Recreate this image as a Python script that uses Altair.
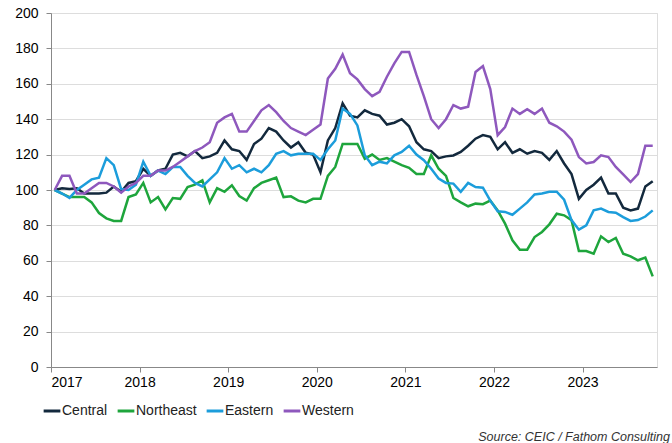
import altair as alt
import pandas as pd

# Monthly index values, Jan 2017 to Oct 2023 (Jan 2017 = 100)
central = [100, 101, 100.5, 101, 98, 98, 98, 98.5, 102, 99,
           104, 105, 112, 108, 111, 112, 120, 121, 119, 122,
           118, 119, 121, 128, 123, 122, 117, 126, 129,
           135, 133, 128, 124, 127, 121, 120, 110, 128, 135,
           149, 142, 141, 145, 143, 142, 137, 138, 140, 136,
           127, 123, 122, 118, 119, 119.5, 121.5, 125, 129, 131,
           130, 123, 127, 121, 123, 120.5, 122, 121, 117, 122,
           115, 109, 95, 100, 103, 107, 98, 98, 90, 88.5,
           89.5, 102, 105]
northeast = [100, 98, 96, 96, 96, 93, 87, 84, 82.5, 82.5,
             96, 97.5, 104, 93, 96, 89, 95.5, 95, 101.7, 103,
             105.5, 93, 101, 99, 102.6, 96.6, 94, 101, 104,
             105.5, 107, 96, 96.4, 94, 93, 95, 95, 108, 113,
             126, 126, 126, 117.7, 120, 117, 118, 116, 114, 112.5,
             109, 109, 119.6, 112, 108, 95.5, 93, 90.8, 92.3, 92,
             94, 88.5, 81, 71.6, 66.3, 66.3, 73.4, 76.3, 80.6, 86.6,
             85.7, 83, 65.5, 65.5, 64, 73.8, 70.6, 72.9, 64, 62.5,
             60.3, 61.8, 51.2]
eastern = [100, 98, 95.5, 100, 103, 106, 107, 118, 114, 100.5,
           100, 103, 116, 108, 111, 109, 113, 113, 108, 104,
           102, 106, 110, 118, 112, 114, 110, 112, 110,
           114, 120.5, 122, 119.6, 120.5, 120.5, 120.5, 117, 123, 128,
           146, 143, 136.5, 119.6, 114, 116, 115, 119.6, 121.5, 125,
           120, 116.8, 112, 106.5, 104, 103.6, 99, 104, 101.7, 101.3,
           94, 88, 87.6, 86, 89.5, 93, 97.5, 98, 99, 99,
           94.5, 83, 77.6, 80, 88.5, 89.5, 87.6, 87.2, 84.7, 82.5,
           83, 85, 88.5]
western = [100, 108, 108, 98, 98, 101, 104, 104, 102, 98.5,
           102, 104, 108, 108, 111, 111, 113, 116, 119, 122,
           124, 127, 138, 141, 143, 133, 133, 139, 145,
           148, 144, 139, 135, 133, 131, 134, 137, 163, 168.5,
           176.5, 166, 162.5, 157, 153, 155.5, 164, 171.5, 178, 178,
           165, 153, 140, 135, 140, 148, 146, 147, 166.7, 170,
           157, 131, 135.6, 146, 143, 145.6, 143, 146, 138, 136,
           133, 128.4, 118.6, 115, 115.8, 119.6, 118.6, 113, 108.8, 104.5,
           109, 125, 125]

series_names = ["Central", "Northeast", "Eastern", "Western"]
series_colors = ["#13293d", "#1ea53c", "#1c9ddb", "#8e58bd"]
year_ticks = [2017, 2018, 2019, 2020, 2021, 2022, 2023]
y_ticks = list(range(0, 201, 20))
source_note = "Source: CEIC / Fathom Consulting"

months = pd.date_range("2017-01-01", periods=len(central), freq="MS")
decimal_year = months.year + (months.month - 0.5) / 12

rows = []
for name, vals in zip(series_names, [central, northeast, eastern, western]):
    for t, v in zip(decimal_year, vals):
        rows.append({"t": float(t), "series": name, "value": v})
df = pd.DataFrame(rows)

FONT = "Liberation Sans"

lines = alt.Chart(df).mark_line(strokeWidth=2.5, strokeJoin="miter").encode(
    x=alt.X(
        "t:Q",
        scale=alt.Scale(domain=[2017, 2023.84], nice=False, zero=False),
        axis=alt.Axis(values=year_ticks, format="d", title=None, grid=False,
                      tickSize=5, labelPadding=3, labelFontSize=14),
    ),
    y=alt.Y(
        "value:Q",
        scale=alt.Scale(domain=[0, 200], nice=False),
        axis=alt.Axis(values=y_ticks, title=None, grid=True, tickSize=5,
                      labelPadding=8, labelFontSize=14),
    ),
    color=alt.Color(
        "series:N",
        sort=series_names,
        scale=alt.Scale(domain=series_names, range=series_colors),
        legend=alt.Legend(
            title=None, orient="none", direction="horizontal",
            legendX=-9, legendY=388,
            symbolType="stroke", symbolSize=280, symbolStrokeWidth=3,
            labelFontSize=14, labelFont=FONT, labelColor="#222222",
            labelOffset=0, columnPadding=3,
        ),
    ),
)

note = alt.Chart(pd.DataFrame({"s": [source_note]})).mark_text(
    align="right", baseline="middle", fontStyle="italic", fontSize=12.5,
    font=FONT, color="#333333",
).encode(text="s:N", x=alt.value(619), y=alt.value(424))

chart = alt.layer(lines, note).properties(
    width=606,
    height=354,
    padding={"left": 51, "top": 13, "right": 15, "bottom": 76},
    autosize=alt.AutoSizeParams(type="none"),
).configure_view(stroke=None).configure_axis(
    labelFont=FONT, labelColor="#222222", domainColor="#8c8c8c",
    tickColor="#8c8c8c", gridColor="#dcdcdc", domainWidth=1.2,
).configure(background="white")

chart.save("out.html", embed_options={"renderer": "svg", "actions": False})
